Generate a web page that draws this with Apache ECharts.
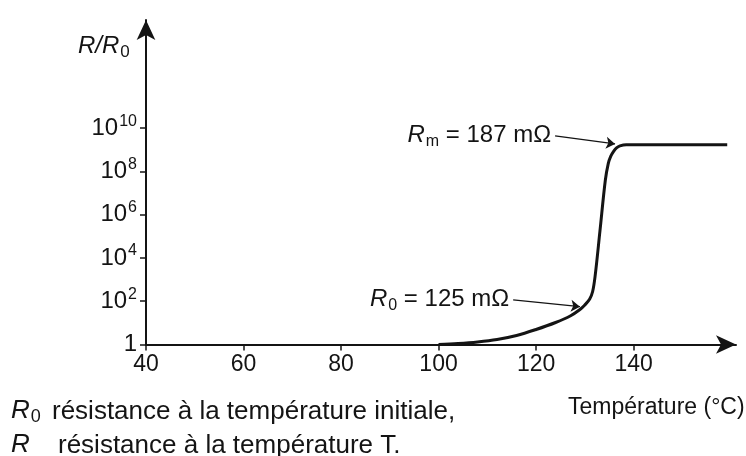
<!DOCTYPE html>
<html>
<head>
<meta charset="utf-8">
<script src="https://cdn.jsdelivr.net/npm/echarts@6/dist/echarts.min.js"></script>
<style>html,body{margin:0;padding:0;background:#fff;}#c{width:746px;height:456px;}</style>
</head>
<body>
<div id="c"></div>
<script>
// Temperature (°C) and resistance ratio R/R0
const temperature = [100, 104, 108, 112, 116, 120, 124, 127, 129, 130, 131, 131.6, 132.1, 133.1, 134.2, 134.8, 135.3, 135.9, 136.5, 137.2, 138.5, 150, 159.2];
const ratio = [1, 1.11, 1.31, 1.70, 2.61, 4.94, 10.4, 20.8, 41.6, 67, 127, 282, 1400, 1.78e5, 3.9e7, 2.3e8, 5.0e8, 8.5e8, 1.23e9, 1.51e9, 1.7e9, 1.7e9, 1.7e9];
const xTicks = [40, 60, 80, 100, 120, 140];
const yTicks = [1, 1e2, 1e4, 1e6, 1e8, 1e10];
// annotation arrows: [start point, end point] in data coords
const annR0 = { text: '125 mΩ', sub: '0', from: [115.3, 115], to: [129.0, 56] };
const annRm = { text: '187 mΩ', sub: 'm', from: [123.9, 4.4e9], to: [136.2, 1.86e9] };

const FONT = '"Liberation Sans", Arial, sans-serif';
const INK = '#141414';
const chart = echarts.init(document.getElementById('c'), null, { renderer: 'canvas' });

function annLabel(a) {
  return {
    show: true,
    position: 'start',
    distance: 4,
    formatter: '{r|R}{sb|' + a.sub + '}{t| = ' + a.text + '}',
    rich: {
      r: { fontFamily: FONT, fontSize: 24, fontStyle: 'italic', color: INK },
      sb: { fontFamily: FONT, fontSize: 16, color: INK, padding: [12, 0, 0, 1] },
      t: { fontFamily: FONT, fontSize: 24, color: INK }
    }
  };
}

const data = temperature.map((t, i) => [t, ratio[i]]);

chart.setOption({
  animation: false,
  grid: { left: 146, right: 10, top: 20, bottom: 111.5, containLabel: false },
  xAxis: {
    type: 'value', min: 40, max: 161,
    axisLine: { show: true, symbol: ['none', 'arrow'], symbolSize: [14, 20], lineStyle: { color: INK, width: 2 } },
    axisTick: { show: true, customValues: xTicks, length: 6, inside: false, lineStyle: { color: INK, width: 1.5 } },
    axisLabel: { customValues: xTicks, margin: 9, fontFamily: FONT, fontSize: 23, color: INK },
    splitLine: { show: false }
  },
  yAxis: {
    type: 'log', logBase: 10, min: 1, max: 1e15,
    axisLine: { show: true, symbol: ['none', 'arrow'], symbolSize: [14, 20], lineStyle: { color: INK, width: 2 } },
    axisTick: { show: true, customValues: yTicks, length: 6, lineStyle: { color: INK, width: 1.5 } },
    axisLabel: {
      customValues: yTicks, margin: 9,
      formatter: function (v) {
        const e = Math.round(Math.log10(v));
        return e === 0 ? '{n|1}' : '{n|10}{s|' + e + '}';
      },
      rich: {
        n: { fontFamily: FONT, fontSize: 24, color: INK },
        s: { fontFamily: FONT, fontSize: 16, color: INK, padding: [0, 0, 14, 1] }
      }
    },
    splitLine: { show: false }
  },
  series: [{
    type: 'line',
    data: data,
    smooth: 0.35,
    showSymbol: false,
    lineStyle: { color: INK, width: 3 },
    markLine: {
      silent: true,
      symbol: ['none', 'arrow'],
      symbolSize: 9,
      lineStyle: { color: INK, width: 1.2, type: 'solid' },
      data: [
        [{ coord: annR0.from, label: annLabel(annR0) }, { coord: annR0.to }],
        [{ coord: annRm.from, label: annLabel(annRm) }, { coord: annRm.to }]
      ]
    }
  }],
  graphic: [
    { type: 'text', left: 78, top: 34, style: { text: '{r|R/R}{sb|0}', rich: {
      r: { fontFamily: FONT, fontSize: 24, fontStyle: 'italic', fill: INK },
      sb: { fontFamily: FONT, fontSize: 17, fill: INK, padding: [12, 0, 0, 1] } } } },
    { type: 'text', left: 568, top: 396, style: { text: 'Température (°C)', font: '23px ' + FONT, fill: INK } },
    { type: 'text', left: 11, top: 398, style: { text: '{r|R}{sb|0}', rich: {
      r: { fontFamily: FONT, fontSize: 26, fontStyle: 'italic', fill: INK },
      sb: { fontFamily: FONT, fontSize: 18, fill: INK, padding: [12, 0, 0, 1] } } } },
    { type: 'text', left: 52, top: 399, style: { text: 'résistance à la température initiale,', font: '26px ' + FONT, fill: INK } },
    { type: 'text', left: 11, top: 432, style: { text: 'R', font: 'italic 26px ' + FONT, fill: INK } },
    { type: 'text', left: 58, top: 433, style: { text: 'résistance à la température T.', font: '26px ' + FONT, fill: INK } }
  ]
});
</script>
</body>
</html>
